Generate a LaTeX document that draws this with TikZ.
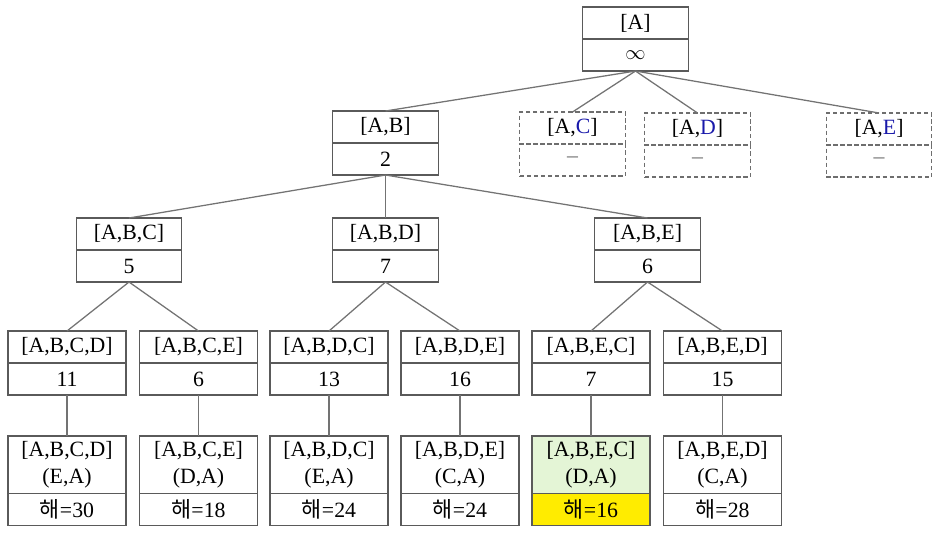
\documentclass[tikz,border=0pt]{standalone}
\usepackage{fontspec}
\setmainfont{Liberation Serif}
\newfontfamily\kor{Noto Sans CJK KR}
\usetikzlibrary{positioning}
\definecolor{boxline}{RGB}{90,90,90}
\definecolor{edgeline}{RGB}{115,115,115}
\definecolor{cityblue}{RGB}{25,25,170}
\definecolor{cutgray}{RGB}{110,110,110}
\definecolor{bestgreen}{RGB}{228,245,214}
\definecolor{bestyellow}{RGB}{255,236,0}
\tikzset{
  cell/.style={draw=boxline, line width=0.8pt, inner sep=0pt, outer sep=0pt,
    minimum height=0.8cm, align=center, font=\fontsize{15.5}{19}\selectfont},
  upper/.style={cell, minimum width=2.63cm},
  lower/.style={cell, minimum width=2.95cm},
  cut/.style={upper, densely dashed, draw=cutgray},
  leaf/.style={lower, minimum height=1.43cm},
  edge/.style={draw=edgeline, line width=0.9pt}
}
\newcommand{\hae}[1]{{\kor 해}=#1}
\newcommand{\blue}[1]{\textcolor{cityblue}{#1}}
\begin{document}
\begin{tikzpicture}[x=0.025cm, y=-0.025cm]
  \useasboundingbox (0,0) rectangle (940,534);

  % root
  \node[upper, anchor=north] (A) at (635.5,7) {[A]};
  \node[upper, below=0pt of A] (Aval) {$\infty$};

  % level 1
  \node[upper, anchor=north] (AB) at (385.5,111) {[A,B]};
  \node[upper, below=0pt of AB] (ABval) {2};
  \node[cut, anchor=north] (AC) at (572.5,112) {[A,\blue{C}]};
  \node[cut, below=0pt of AC] (ACval) {\textcolor{cutgray}{--}};
  \node[cut, anchor=north] (AD) at (697.5,113) {[A,\blue{D}]};
  \node[cut, below=0pt of AD] (ADval) {\textcolor{cutgray}{--}};
  \node[cut, anchor=north] (AE) at (879,113) {[A,\blue{E}]};
  \node[cut, below=0pt of AE] (AEval) {\textcolor{cutgray}{--}};

  % level 2
  \node[upper, anchor=north] (ABC) at (129,218) {[A,B,C]};
  \node[upper, below=0pt of ABC] (ABCval) {5};
  \node[upper, anchor=north] (ABD) at (385.5,218) {[A,B,D]};
  \node[upper, below=0pt of ABD] (ABDval) {7};
  \node[upper, anchor=north] (ABE) at (647.5,218) {[A,B,E]};
  \node[upper, below=0pt of ABE] (ABEval) {6};

  % level 3
  \node[lower, anchor=north] (ABCD) at (67,331) {[A,B,C,D]};
  \node[lower, below=0pt of ABCD] (ABCDval) {11};
  \node[lower, anchor=north] (ABCE) at (198.5,331) {[A,B,C,E]};
  \node[lower, below=0pt of ABCE] (ABCEval) {6};
  \node[lower, anchor=north] (ABDC) at (329,331) {[A,B,D,C]};
  \node[lower, below=0pt of ABDC] (ABDCval) {13};
  \node[lower, anchor=north] (ABDE) at (460,331) {[A,B,D,E]};
  \node[lower, below=0pt of ABDE] (ABDEval) {16};
  \node[lower, anchor=north] (ABEC) at (591,331) {[A,B,E,C]};
  \node[lower, below=0pt of ABEC] (ABECval) {7};
  \node[lower, anchor=north] (ABED) at (722.5,331) {[A,B,E,D]};
  \node[lower, below=0pt of ABED] (ABEDval) {15};

  % tours
  \node[leaf, anchor=north] (T1) at (67,436) {[A,B,C,D]\\(E,A)};
  \node[lower, below=0pt of T1] (T1val) {\hae{30}};
  \node[leaf, anchor=north] (T2) at (198.5,436) {[A,B,C,E]\\(D,A)};
  \node[lower, below=0pt of T2] (T2val) {\hae{18}};
  \node[leaf, anchor=north] (T3) at (329,436) {[A,B,D,C]\\(E,A)};
  \node[lower, below=0pt of T3] (T3val) {\hae{24}};
  \node[leaf, anchor=north] (T4) at (460,436) {[A,B,D,E]\\(C,A)};
  \node[lower, below=0pt of T4] (T4val) {\hae{24}};
  \node[leaf, fill=bestgreen, anchor=north] (T5) at (591,436) {[A,B,E,C]\\(D,A)};
  \node[lower, fill=bestyellow, below=0pt of T5] (T5val) {\hae{16}};
  \node[leaf, anchor=north] (T6) at (722.5,436) {[A,B,E,D]\\(C,A)};
  \node[lower, below=0pt of T6] (T6val) {\hae{28}};

  % edges
  \draw[edge] (Aval.south) -- (AB.north);
  \draw[edge] (Aval.south) -- (AC.north);
  \draw[edge] (Aval.south) -- (AD.north);
  \draw[edge] (Aval.south) -- (AE.north);
  \draw[edge] (ABval.south) -- (ABC.north);
  \draw[edge] (ABval.south) -- (ABD.north);
  \draw[edge] (ABval.south) -- (ABE.north);
  \draw[edge] (ABCval.south) -- (ABCD.north);
  \draw[edge] (ABCval.south) -- (ABCE.north);
  \draw[edge] (ABDval.south) -- (ABDC.north);
  \draw[edge] (ABDval.south) -- (ABDE.north);
  \draw[edge] (ABEval.south) -- (ABEC.north);
  \draw[edge] (ABEval.south) -- (ABED.north);
  \draw[edge] (ABCDval.south) -- (T1.north);
  \draw[edge] (ABCEval.south) -- (T2.north);
  \draw[edge] (ABDCval.south) -- (T3.north);
  \draw[edge] (ABDEval.south) -- (T4.north);
  \draw[edge] (ABECval.south) -- (T5.north);
  \draw[edge] (ABEDval.south) -- (T6.north);
\end{tikzpicture}
\end{document}
